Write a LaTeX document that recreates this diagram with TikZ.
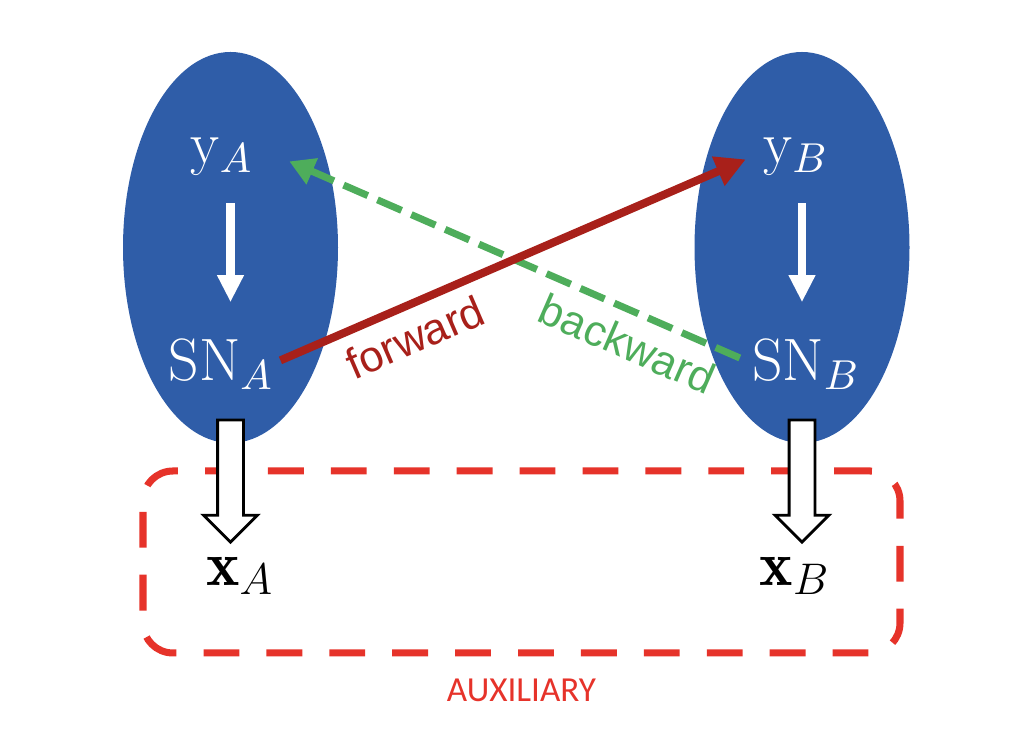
\RequirePackage{fix-cm}
\documentclass[tikz,border=0pt]{standalone}
\usepackage{amsmath}
\usepackage{fontspec}
\newfontfamily\arialfont{Liberation Sans}
\newfontfamily\calibrifont{Carlito}
\usetikzlibrary{shapes.geometric, shapes.arrows, arrows.meta, positioning}
\definecolor{ellblue}{HTML}{2F5DA8}
\definecolor{fwdred}{HTML}{A8201A}
\definecolor{bwdgreen}{HTML}{4EAD5B}
\definecolor{auxred}{HTML}{E6332A}
\tikzstyle{group} = [ellipse, fill = ellblue, minimum width = 2.15cm, minimum height = 3.91cm, inner sep = 0pt]
\tikzstyle{var} = [text = white, font = \fontsize{17}{20}\selectfont]
\tikzstyle{obs} = [text = black, font = \fontsize{18}{21}\selectfont]
\tikzstyle{flow} = [draw = white, line width = 2.3pt, -{Triangle[length = 0.27cm, width = 0.25cm]}]
\tikzstyle{block} = [single arrow, draw = black, fill = white, thick, rotate = -90, anchor = tail, minimum height = 1.22cm, inner sep = 0.115cm, single arrow head extend = 0.14cm]
\tikzstyle{fwd} = [draw = fwdred, line width = 2.3pt, -{Triangle[length = 0.3cm, width = 0.3cm]}]
\tikzstyle{bwd} = [draw = bwdgreen, line width = 2pt, dash pattern = on 7.5pt off 3pt, -{Triangle[length = 0.25cm, width = 0.27cm]}]
\tikzstyle{auxbox} = [draw = auxred, line width = 2pt, dash pattern = on 10.2pt off 7.7pt, rounded corners = 0.3cm, minimum width = 7.57cm, minimum height = 1.82cm]
\tikzstyle{edgelabel} = [font = \arialfont\fontsize{12.4}{15}\selectfont, sloped, below, inner sep = 1pt, outer sep = 3.5pt]

\begin{document}
\begin{tikzpicture}
    \useasboundingbox (0, 0) rectangle (10.36, 7.40);

    \node (aux) at (5.215, 1.78) [auxbox] {};
    \node (auxlabel) [below = 0.1cm of aux, text = auxred, font = \calibrifont\fontsize{10}{12}\selectfont] {AUXILIARY};

    \node (ellA) at (2.305, 4.925) [group] {};
    \node (ellB) at (8.02, 4.925) [group] {};

    \node (yA) at (2.22, 5.83) [var] {$\mathrm{y}_A$};
    \node (snA) at (2.21, 3.76) [var] {$\mathrm{SN}_A$};
    \node (yB) at (7.96, 5.83) [var] {$\mathrm{y}_B$};
    \node (snB) at (8.06, 3.76) [var] {$\mathrm{SN}_B$};
    \node (xA) at (2.40, 1.64) [obs] {$\mathbf{x}_A$};
    \node (xB) at (7.95, 1.64) [obs] {$\mathbf{x}_B$};

    \draw [flow, shorten < = 0.15cm, shorten > = 0.24cm] (yA.south -| ellA.center) -- (snA.north -| ellA.center);
    \draw [flow, shorten < = 0.15cm, shorten > = 0.24cm] (yB.south -| ellB.center) -- (snB.north -| ellB.center);

    \node (toA) at ([yshift = 0.25cm] ellA.south) [block] {};
    \node (toB) at ([yshift = 0.25cm] ellB.south) [block] {};

    \draw [bwd, shorten > = 0.26cm] ([yshift = 0.06cm] snB.west) -- ([yshift = 0.06cm] yA.east) node [edgelabel, pos = 0.21, text = bwdgreen] {backward};
    \draw [fwd, shorten < = -0.06cm, shorten > = 0.06cm] ([yshift = 0.06cm] snA.east) -- (yB.west) node [edgelabel, pos = 0.25, text = fwdred] {forward};
\end{tikzpicture}
\end{document}
